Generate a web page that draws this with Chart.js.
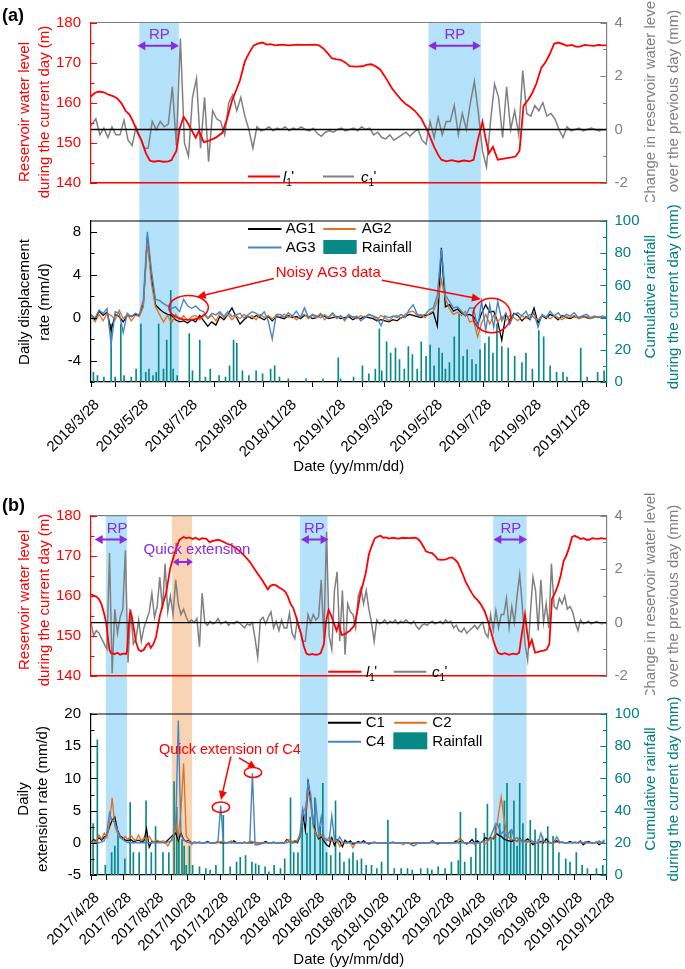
<!DOCTYPE html>
<html>
<head>
<meta charset="utf-8">
<title>Reservoir level, displacement rate and extension rate</title>
<script src="https://cdn.jsdelivr.net/npm/chart.js@4.4.1/dist/chart.umd.min.js"></script>
<style>
  html, body { margin: 0; padding: 0; background: #fff; }
  #page { position: relative; width: 685px; height: 969px; overflow: hidden; background: #fff; }
  #page canvas { position: absolute; left: 0; }
</style>
</head>
<body>
<div id="page">
  <canvas id="levelA" width="685" height="202" style="top:0px;width:685px;height:202px"></canvas>
  <canvas id="rateA" width="685" height="290" style="top:202px;width:685px;height:290px"></canvas>
  <canvas id="levelB" width="685" height="205" style="top:490px;width:685px;height:205px"></canvas>
  <canvas id="rateB" width="685" height="274" style="top:695px;width:685px;height:274px"></canvas>
</div>
<script>
// ---------- data (days are counted from 2017/4/28) ----------

// reservoir water level l1' (m)
const levelDays = [0, 5, 10, 15, 20, 25, 29, 32, 35, 38, 45, 50, 55, 60, 66, 68, 71, 74, 77, 80,
  85, 90, 95, 100, 105, 109, 113, 118, 123, 130, 136, 142, 150, 159, 167, 175, 180, 186, 192, 198,
  204, 210, 218, 224, 232, 241, 250, 257, 265, 274, 282, 290, 300, 307, 315, 323, 330,
  334, 339, 344, 350, 356, 362, 367, 372, 377, 382, 387, 392, 397, 402, 407, 412, 418, 424, 430,
  434, 436, 440, 444, 449, 454, 458, 464, 468, 474, 480, 489, 497, 503, 509, 514, 519, 525, 530,
  536, 542, 547, 552, 557, 563, 570, 580, 590, 600, 612, 617, 622, 628, 633, 639, 644, 650, 655,
  662, 671, 677, 682, 688, 693, 698, 703, 708, 714, 719, 725, 730, 736, 744, 752, 760, 765, 769,
  775, 782, 790, 797, 804, 809, 814, 820, 824, 828, 833, 839, 845, 850, 856, 861, 866, 871, 877,
  882, 887, 893, 898, 903, 909, 914, 920, 925, 931, 936, 941, 947, 952, 958, 964, 969, 974];
const levelVals = [160.4, 160.1, 159.8, 159.2, 157.8, 155.5, 152.9, 149.5, 146.5, 145.7, 145.5, 145.8, 145.3, 145.6, 145.5, 146.2, 152, 156, 155, 152.5,
  148.5, 146.5, 146.2, 146.6, 147.8, 148.2, 147, 148, 149.8, 155, 158, 160.8, 167.1, 171, 174, 174.7, 174.4, 174.6, 174.2, 174.5,
  174, 174.4, 174.2, 173.4, 173.8, 174, 173.5, 173, 172.7, 171.9, 171, 170, 168.5, 167.1, 165.5, 164, 162.5,
  161.6, 162.5, 162.8, 162.6, 162, 161.6, 161, 159.8, 158, 157, 155, 152.5, 150.5, 147.5, 145.6, 145.3, 145.5, 145.3, 145.4,
  145.7, 146.5, 148, 153.5, 156.5, 155, 153.5, 151.3, 153, 150.2, 150.5, 151.3, 152.5, 156, 160.5, 163, 165.6, 170.3, 172.3,
  174.3, 174.8, 175, 174.5, 174.6, 174.3, 174.5, 174.3, 174.5, 174.4, 174.5, 174.3, 173.6, 172.3, 171.1, 170.8, 170.7, 170, 169.1,
  169, 169.1, 169.5, 169.6, 169, 168.3, 166.8, 165.2, 163.5, 162, 160.8, 159.6, 159, 158, 156.1, 152.9, 149, 147, 145.8,
  145.4, 145.7, 145.3, 145.6, 145.4, 145.8, 150.5, 155.3, 151, 147.4, 149, 145.8, 146, 146.2, 146.4, 146.6, 148, 159.2, 160.8,
  162.5, 164.8, 168.7, 170, 171.9, 174.7, 175, 174.6, 174.2, 174.4, 174, 174, 174.4, 174.3, 174.2, 174.4, 174.3, 174.3];

// change in water level over the previous day c1' (mm), one reading every 5 days
const riseVals = [
  0, -0.5, -0.3, -0.4, -0.6, -0.8, -1.0, 2.6, -1.9, 0.5,
  -0.4, 0.2, 0.5, 2.7, -1.5, 0.5, -0.8, -0.6, 0.1, -0.7,
  -0.2, 0.1, 0.4, 1.1, 0.2, 0.6, 1.7, 0.5, 2.2, 0.4,
  1.0, 0.3, 1.6, 0.7, 0.3, 0.5, 0.2, 0.0, 0.1, 0.0,
  0.15, -0.9, 1.1, 0.0, -0.1, 0.05, -0.05, 0.0, 0.15, -0.05,
  0.0, 0.05, -0.1, 0.0, -0.05, 0.05, 0.0, -0.1, -0.2, -0.05,
  -0.1, 0.0, -0.6, -1.3, 0.1, 0.2, -0.05, 0.2, 0.4, -0.2,
  0.05, -0.3, 0.1, -0.2, -0.2, 0.35, -0.4, -0.6, 0.1, -0.3,
  -0.7, -0.7, 0.3, 0.0, 0.3, 0.1, 0.2, 1.6, -0.6, 3.4,
  -0.5, -1.0, 1.2, 1.9, -0.7, 1.2, -1.2, 0.7, 0.4, 0.3,
  -0.2, 1.0, 1.3, 0.7, 1.2, 0.5, 0.0, -0.7, 0.1, -0.05,
  0.0, 0.1, -0.05, 0.05, 0.0, 0.1, -0.05, 0.05, 0.0, 0.1,
  0.0, -0.05, 0.05, -0.15, -0.25, -0.1, -0.05, -0.1, 0.0, 0.05,
  -0.05, 0.0, 0.05, -0.05, 0.1, 0.0, 0.05, -0.2, -0.1, -0.3,
  -0.35, -0.2, -0.4, -0.3, -0.2, -0.1, -0.25, -0.1, 0.0, -0.4,
  -0.55, 0.3, -0.3, 0.45, -0.2, 0.3, 0.3, 0.9, -0.2, 0.6,
  0.0, 1.0, 1.8, 0.6, -0.8, -1.4, 0.3, 1.7, 1.2, -0.3,
  1.6, 0.0, 0.7, -0.2, 2.2, 0.6, 0.5, 0.9, 0.7, 1.0,
  0.5, 0.6, 0.4, 0.0, -0.3, 0.1, -0.05, 0.0, 0.05, -0.05,
  0.0, 0.05, 0.0, -0.05, 0.0];

// panel (a): daily displacement rate (mm/d), every 5 days from 2018/3/28
const ag1 = [
  0.3, -0.2, 0.6, 0.2, 0.5, -1.2, 0.3, 0.1, -0.4, 0.2,
  0.1, 0.3, 0.2, 1.2, 7.5, 3.8, 1.2, 0.8, 0.5, 0.3,
  0.2, -0.2, -0.4, -0.3, -0.5, -0.2, -0.4, 0.2, -0.3, -0.8,
  -0.4, -0.7, 0.1, -0.2, 0.3, 0.9, 0.1, -0.6, -0.2, 0.1,
  -0.1, 0.2, 0, -0.2, 0.1, -0.3, 0.1, 0, -0.1, 0.2,
  0, 0.1, -0.1, 0.2, 0.1, -0.1, 0, 0.3, 0.1, -0.1,
  0, 0.1, -0.1, 0, 0.1, -0.2, 0, -0.1, 0.1, 0,
  -0.1, -0.3, -0.2, -0.3, -0.4, -0.2, -0.3, 0, 0.1, 0.3,
  0.2, 0.1, 0, 0.2, 0.3, 0.5, -0.8, 6.5, 1.0, 1.2,
  0.6, 0.8, 0.4, 0.2, 0.3, 0.1, -0.6, 0.4, 1.2, 0.5,
  0.6, -0.4, -2.1, 0.3, -0.3, 0.4, 0.2, -0.3, 0.1, -0.2,
  0.9, -0.5, 0.2, -0.1, 0.3, 0.1, -0.2, 0.2, 0, -0.1,
  0.1, 0, 0.1, 0, -0.1, 0.1, 0, 0.1, 0];
const ag2 = [
  0.1, -0.4, 0.3, -0.3, 0.4, 0.2, -0.2, 0.7, -0.1, 0.3,
  -0.3, 0.2, 0.1, 1.0, 7.0, 3.2, 1.0, 0.3, -0.4, 0.2,
  -0.5, 0.3, -0.2, 0.2, -0.3, 0.1, 0.2, -0.2, 0.3, -0.1,
  0.2, -0.3, 0.4, 0, 0.3, -0.2, 0.2, -0.1, 0.3, 0,
  0.2, -0.2, 0.3, 0, 0.2, -0.1, 0.2, 0.1, 0.3, 0,
  0.2, -0.2, 0.1, 0.3, -0.1, 0.2, 0, 0.4, -0.2, 0.1,
  0.3, -0.1, 0.2, -0.3, 0.2, 0.1, -0.1, 0.2, 0, 0.3,
  0.1, -0.2, 0.2, 0, -0.3, 0.1, 0.2, -0.1, 0.3, 0.5,
  0.6, 0.2, 0.3, 0, 0.4, 0.6, 1.5, 3.5, 1.8, 0.8,
  0.3, 0.5, 0.2, 0.6, -0.4, -0.3, -1.8, -0.5, 0.3, -0.6,
  0.2, -0.4, 0.1, -0.3, 0.2, 0, -0.3, 0.2, -0.1, 0.3,
  0, -0.2, 0.2, 0.1, -0.1, 0.2, 0, -0.2, 0.1, 0,
  0.2, -0.1, 0, 0.1, -0.1, 0, 0.1, -0.1, 0];
const ag3 = [
  0.25, -0.05, 0.7, 0.4, 0.85, -2.5, 0.55, 0.4, -1.4, 0.4,
  0.1, 0.4, 0.25, 1.7, 8.0, 4.4, 1.7, 1.6, 1.3, 1.1,
  0.85, 1.0, 0.55, 1.7, 1.1, 0.85, 1.1, 0.7, 0.55, -0.05,
  0.4, 0.25, 0.55, 0.1, 0.55, 0.1, 0.25, 0.4, -0.05, 0.25,
  0.55, 0.4, 0.1, 0.55, -0.3, -2.0, 0.3, 0.3, 0, 0.45,
  0.15, 0.6, 0, 0.9, 0, 0.3, 0.15, 0, 0.25, 0,
  0.45, 0, 0.15, -0.15, 0.3, 0, 0.15, -0.3, 0, 0.3,
  0.15, 0, -0.75, 0.15, 0, 0.15, 0, 0.3, 0, 0.75,
  1.2, 0.3, 0.15, 0.3, 0.75, 0.9, 2.1, 6.4, 2.1, 1.5,
  0.9, 1.0, 0.6, 0.15, 0.9, 0.9, -1.0, 1.5, -1.2, 1.2,
  -0.9, 1.5, -0.3, 0.45, -0.6, 0.3, 0.45, 0.15, 0.6, -0.15,
  0.45, -0.9, 0.3, 0, 0.6, 0.15, 0.45, 0, 0.3, 0.15,
  0.45, 0, 0.15, 0.3, 0, 0.15, 0, 0.15, 0];

// panel (a): rainfall of the day (mm), days after 2018/3/28
const rainADays = [3, 8, 16, 25, 30, 37, 41, 50, 56, 62, 68, 72, 77, 81, 84, 90, 94, 99, 102, 107,
  122, 126, 135, 142, 148, 159, 167, 172, 177, 181, 188, 196, 205, 213, 223, 228, 234, 245, 267, 288,
  307, 310, 326, 337, 345, 353, 358, 361, 367, 372, 378, 383, 389, 394, 399, 405, 410, 416, 421, 426,
  432, 436, 440, 445, 451, 457, 462, 467, 473, 478, 483, 489, 494, 499, 504, 510, 518, 526, 535, 540,
  548, 556, 562, 570, 578, 586, 591, 608, 616, 629, 637];
const rainAmm = [6, 4, 3, 36, 3, 36, 4, 3, 8, 36, 6, 8, 4, 6, 36, 8, 26, 57, 8, 4,
  30, 7, 26, 3, 8, 4, 3, 10, 26, 24, 7, 4, 7, 5, 8, 10, 3, 2, 2, 2,
  15, 2, 3, 10, 5, 8, 33, 7, 25, 18, 21, 14, 8, 22, 17, 8, 25, 16, 23, 10,
  21, 18, 8, 12, 28, 42, 16, 20, 14, 11, 20, 24, 28, 18, 36, 22, 21, 16, 12, 18,
  8, 32, 28, 10, 6, 6, 3, 21, 3, 6, 7];

// panel (b): daily extension rate (mm/d), every 5 days from 2017/4/28
const c1 = [
  0, 0.5, 0.3, 0.8, 0.4, 0.9, 1.2, 2.5, 3.5, 4.0,
  2.0, 1.0, 0.8, 0.4, 0.3, 0.5, 0.2, 0.3, 0.4, 0.2,
  0.3, 2.2, -0.7, 0.2, 0.1, 0.3, 0.2, 0.1, 0, 0.4,
  0.8, 1.2, 1.5, 0.3, 1.5, 0.5, 0.2, 0.4, 0, 0.1,
  0, 0.1, 0, 0, 0.2, 0, 0, 0, 0.1, 0,
  0, 0, 0.1, 0, 0.3, 0, 0, 0, 0.1, 0,
  0, 0, 0.1, 0, 0, 0, 0.2, 0, 0, 0.1,
  0, 0, 0, 0, 0.5, 0.2, 0, 0.3, 0, 1.0,
  4.5, 2.0, 9.8, 6.5, 3.0, 1.5, 0.6, 1.0, 0.3, -0.3,
  -0.6, 0.8, -0.4, 0.5, 0.2, -0.6, 0.4, 0, 0.3, -0.2,
  0, 0.2, 0, 0.3, 0, -0.2, 0, 0.1, 0, 0,
  0, 0, 0, 0, 0.1, 0, 0, 0, 0, 0,
  0, -0.2, 0, 0, 0, 0, 0, 0, 0, 0.3,
  0, -0.2, 0, 0, 0, 0, 0, 0, 0.3, 0,
  0.4, 0, -0.2, 0.1, 0.5, 0, 0.3, 0, 0.2, 0.8,
  0.5, 0.8, 0.6, 1.5, 1.2, 1.0, 0.6, 0.4, 0.3, 0.2,
  0.5, 0.2, 0.7, 0.1, 0.3, 0.6, 0.2, -0.3, 0.1, 0,
  0.2, 0, 0.6, 0.1, 0, 0.1, 0.3, 0, 0.1, 0,
  0, 0.2, 0, 0.1, 0, 0.3, -0.3, 0, 0.2, 0,
  0, 0.1, -0.3, 0, 0.2];
const c2 = [
  0, 0.3, 0.2, 1.2, 0.6, 1.5, 0.8, 3.0, 7.0, 2.6,
  1.5, 0.8, 0.6, 1.0, 0.5, 1.2, 0.6, 0.4, 1.2, 0.3,
  0.8, 0.5, 1.0, 0.3, 0.2, 0.4, 0.1, 0.3, 0.2, -0.5,
  0.2, 0.5, 3.3, 1.0, 5.0, 12.3, 1.0, 0.5, -0.3, 0,
  0.1, 0, 0, 0, 0.1, 0, 0, 0, 0, 0.2,
  0.1, 0, 0, 0.3, 0, 0, 0, 0, 0, 0,
  0.2, 0.2, 0, 0, 0, 0, 0, 0, 0, 0,
  0, 0, 0.1, 0, 0.3, 0.5, 0.2, 0.3, 0.4, 1.0,
  4.5, 5.5, 8.0, 6.0, 2.5, 1.5, 0.8, 1.2, 0.6, 0.3,
  0.9, 0.3, 0.2, 0.4, -0.6, 0.1, 0, 0, 0, -0.8,
  0, 0, 0, 0.1, 0, 0, 0, 0, 0, 0,
  0, 0, 0, 0, 0, 0, 0, 0, -0.3, 0,
  0, 0, 0, 0, 0, 0, 0, 0, 0, 0.2,
  0, 0, 0, 0, 0, 0, 0, 0, 0, 0.6,
  0.3, 0, 0, 0, 0, -0.3, 0, 0, 0.2, -0.2,
  0.3, 0.6, 0.8, 1.5, 4.5, 7.1, 4.0, 1.5, 0.8, 0.5,
  0.5, 0.2, 0.6, 0.1, 0.2, 0.3, 0, 0.1, 0, 0,
  0, 0.2, 0, 0, 0, 0, 0.1, 0, 0.2, 0,
  0, 0, 0.1, 0, 0, 0.2, 0, 0, 0, 0,
  0, 0.1, 0, 0, 0];
const c4 = [
  0, 0, 0, 0, 0.1, 0.3, 1.7, 4.6, 3.4, 3.2,
  1.9, 1.0, 0.5, 0.2, 0, 0, 0, 0, 0, 0,
  0, 0, 0, 0, 0, 0, 0, 0, 0, 0.1,
  0.2, 0.9, 2.2, 19.0, 1.2, 0.45, 0.2, 0, 0, 0,
  0, 0, 0, 0, 0, 0, 0, 0, 0.3, 5.8,
  0.2, 0, 0, 0, 0, 0, 0, 0, 0, 0,
  0.1, 10.8, -0.3, -0.3, -0.2, -0.1, 0, 0, 0, 0,
  0, 0, 0, 0, 0, 0.2, 0, 0, 0.2, 1.5,
  5.3, 3.5, 9.5, 7.5, 3.0, 6.0, 1.5, 4.0, 0.8, 0.5,
  0.3, 4.2, 0.5, 0.1, 0.9, 0.2, 0, 0, 0, 0,
  0, 0, 0, 0, 0, 0, 0, 0, 0, 0,
  0, 0, 0, 0, 0, 0, 0, 0, 0, 0,
  0, -0.3, -0.5, -0.2, 0, 0, 0, 0, 0, 0,
  0, 0, 0, 0, 0, 0, 0, 0, 0, 0,
  0, 0, 0, 0, 0, 0, 0, 0, 0.2, 0.3,
  0.5, 1.0, 2.0, 3.0, 2.6, 1.4, 1.8, 0.9, 1.6, 2.0,
  0.6, 0.8, 0.4, 0.2, 0.3, 0.1, 0.5, 0.2, 0, 0,
  1.5, 0.3, 0.1, 0, 0, 0.2, 0.9, 0.2, 0, 0,
  0, 0, 0, 0, 0, 0, 0, 0.2, 0, 0,
  0, 0, 0.3, 0, 0.5];

// panel (b): rainfall of the day (mm), days after 2017/4/28
const rainBDays = [4, 12, 27, 39, 45, 51, 64, 74, 80, 91, 104, 114, 122, 136, 147, 157, 162, 166, 172, 176,
  180, 186, 192, 205, 217, 225, 236, 250, 263, 275, 282, 292, 304, 311, 317, 329, 336, 346, 358, 366,
  377, 383, 391, 399, 408, 414, 423, 433, 438, 445, 453, 462, 470, 478, 488, 495, 503, 511, 520, 530,
  540, 549, 561, 573, 586, 598, 607, 623, 636, 644, 656, 669, 681, 694, 698, 706, 718, 727, 735, 743,
  749, 756, 764, 772, 781, 786, 793, 799, 805, 810, 816, 822, 830, 839, 845, 853, 863, 873, 884, 897,
  905, 917, 928, 938, 955, 967];
const rainBmm = [32, 84, 6, 14, 18, 26, 10, 45, 14, 14, 46, 14, 30, 14, 14, 58, 42, 26, 22, 18,
  6, 18, 6, 5, 4, 3, 6, 37, 5, 8, 11, 12, 8, 7, 6, 5, 2, 6, 4, 10,
  48, 14, 14, 32, 26, 36, 48, 30, 57, 14, 12, 46, 14, 8, 10, 14, 9, 10, 6, 6,
  4, 8, 34, 4, 4, 4, 3, 4, 4, 3, 5, 4, 8, 9, 39, 8, 11, 29, 20, 26,
  44, 22, 30, 32, 46, 57, 28, 46, 18, 57, 32, 20, 34, 28, 22, 24, 30, 24, 14, 10,
  8, 14, 6, 4, 4, 6];

// shaded periods
const rpA = [['2018/5/27', '2018/7/15'], ['2019/5/21', '2019/7/25']];
const rpB = [['2017/5/26', '2017/7/5'], ['2018/5/28', '2018/7/19'], ['2019/5/28', '2019/7/30']];
const quickB = ['2017/9/28', '2017/11/5'];

// tick labels
const tickLabelsA = ['2018/3/28', '2018/5/28', '2018/7/28', '2018/9/28', '2018/11/28', '2019/1/28',
  '2019/3/28', '2019/5/28', '2019/7/28', '2019/9/28', '2019/11/28'];
const tickLabelsB = ['2017/4/28', '2017/6/28', '2017/8/28', '2017/10/28', '2017/12/28', '2018/2/28',
  '2018/4/28', '2018/6/28', '2018/8/28', '2018/10/28', '2018/12/28', '2019/2/28', '2019/4/28',
  '2019/6/28', '2019/8/28', '2019/10/28', '2019/12/28'];

// ---------- setup ----------
const F = "'Liberation Sans', Arial, Helvetica, sans-serif";
Chart.defaults.font.family = F;
Chart.defaults.font.size = 15;
Chart.defaults.color = '#000';

const RED = '#ff0000', GRAY = '#808080', TEAL = '#008080', PURPLE = '#8a2be2';
const ORANGE = '#e0701e', BLUE = '#4a84c2', RAIN = '#078a86';
const SKY = '#b3e2fa', PEACH = '#f8d4b4';

const DAY0 = Date.UTC(2017, 3, 28);
const dayOf = s => { const [y, m, d] = s.split('/').map(Number); return Math.round((Date.UTC(y, m - 1, d) - DAY0) / 864e5); };
const A0 = dayOf('2018/3/28');
const END = dayOf('2019/12/28');

// monthly tick marks, labelled every second month
function monthsBetween(first, last) {
  let [y, m] = first.split('/').map(Number);
  const [ly, lm] = last.split('/').map(Number);
  const out = [];
  while (y < ly || (y === ly && m <= lm)) {
    out.push(`${y}/${m}/28`);
    m++; if (m > 12) { m = 1; y++; }
  }
  return out;
}
const monthsA = monthsBetween('2018/3/28', '2019/12/28');
const monthsB = monthsBetween('2017/4/28', '2019/12/28');

const every5 = (vals, start) => vals.map((v, i) => ({ x: start + 5 * i, y: v }));
const paired = (days, vals, start) => days.map((d, i) => ({ x: start + d, y: vals[i] }));
const levelPts = levelDays.map((d, i) => ({ x: d, y: levelVals[i] }));

// ---------- scales ----------
function yAxis(pos, min, max, ticks, color, width) {
  return {
    type: 'linear', position: pos, min, max,
    afterBuildTicks: s => { s.ticks = ticks.map(v => ({ value: v })); },
    ticks: { color, font: { size: 15 }, padding: pos === 'left' ? 10 : 8 },
    grid: { display: false, drawTicks: false },
    border: { display: true, color, width: 1.2 },
    afterFit: s => { s.width = width; }
  };
}
function xTop(min) {
  return {
    type: 'linear', min, max: END, offset: false,
    ticks: { display: false },
    grid: { display: false, drawTicks: false, offset: false },
    border: { display: true, color: RED, width: 1.5 },
    afterFit: s => { s.height = 11; }
  };
}
function xBottom(min, months, majors, height, titlePad) {
  return {
    type: 'linear', min, max: END, offset: false,
    afterBuildTicks: s => { s.ticks = months.map(m => ({ value: dayOf(m) })); },
    ticks: {
      autoSkip: false, minRotation: 45, maxRotation: 45, padding: 9, labelOffset: 6, color: '#000', font: { size: 15 },
      callback: v => { const m = months.find(mm => dayOf(mm) === v); return majors.includes(m) ? m : ''; }
    },
    grid: { display: true, drawOnChartArea: false, drawTicks: true, tickLength: 5, color: '#000', offset: false },
    border: { display: true, color: '#000', width: 1.2 },
    title: { display: true, text: 'Date (yy/mm/dd)', color: '#000', font: { size: 15 }, padding: { top: 0, bottom: titlePad } },
    afterFit: s => { s.height = height; }
  };
}
function common(padTop) {
  return {
    responsive: false, animation: false, events: [],
    layout: { padding: { top: padTop, left: 0, right: 0, bottom: 0 }, autoPadding: false },
    plugins: { legend: { display: false }, tooltip: { enabled: false } },
    elements: { point: { radius: 0 }, line: { tension: 0 } }
  };
}

// ---------- drawing helpers ----------
function seg(ctx, x1, y1, x2, y2) { ctx.beginPath(); ctx.moveTo(x1, y1); ctx.lineTo(x2, y2); ctx.stroke(); }
function head(ctx, x, y, ang, len, half) {
  const c = Math.cos(ang), s = Math.sin(ang);
  ctx.beginPath();
  ctx.moveTo(x, y);
  ctx.lineTo(x - len * c + half * s, y - len * s - half * c);
  ctx.lineTo(x - len * c - half * s, y - len * s + half * c);
  ctx.closePath(); ctx.fill();
}
function arrow(ctx, x1, y1, x2, y2, both, len, half, w) {
  const ang = Math.atan2(y2 - y1, x2 - x1), c = Math.cos(ang), s = Math.sin(ang);
  ctx.lineWidth = w;
  seg(ctx, both ? x1 + c * len * 0.7 : x1, both ? y1 + s * len * 0.7 : y1, x2 - c * len * 0.7, y2 - s * len * 0.7);
  head(ctx, x2, y2, ang, len, half);
  if (both) head(ctx, x1, y1, ang + Math.PI, len, half);
}
function symbol(ctx, x, y, ch) {
  ctx.fillStyle = '#000'; ctx.textAlign = 'left'; ctx.textBaseline = 'alphabetic';
  ctx.font = `italic 15px ${F}`;
  ctx.fillText(ch, x, y + 5.5);
  const w = ctx.measureText(ch).width;
  ctx.font = `10px ${F}`;
  ctx.fillText('1', x + w, y + 9);
  ctx.font = `15px ${F}`;
  ctx.fillText("'", x + w + 5, y + 4.5);
}

// bands, frame, inner ticks, titles, legend and notes for one chart
function decor(spec) {
  return {
    id: 'decor',
    beforeDraw(chart) {
      const { ctx, chartArea: a } = chart, x = chart.scales.x;
      ctx.save();
      spec.bands.forEach(([d0, d1, col]) => {
        const x0 = Math.max(a.left, x.getPixelForValue(dayOf(d0)));
        const x1 = Math.min(a.right, x.getPixelForValue(dayOf(d1)));
        const y0 = spec.bandDown ? a.top : 0;
        const y1 = spec.bandDown ? chart.height : a.bottom;
        ctx.fillStyle = col;
        ctx.fillRect(x0, y0, x1 - x0, y1 - y0);
      });
      ctx.restore();
    },
    afterDatasetsDraw(chart) {
      if (!spec.zero) return;
      const { ctx, chartArea: a } = chart;
      const y = chart.scales.yR.getPixelForValue(0);
      ctx.save();
      ctx.strokeStyle = '#000'; ctx.lineWidth = 1.3;
      seg(ctx, a.left, y, a.right, y);
      ctx.restore();
    },
    afterDraw(chart) {
      const { ctx, chartArea: a, scales } = chart;
      const px = (axis, xv, yv) => [scales.x.getPixelForValue(xv), scales[axis].getPixelForValue(yv)];
      ctx.save();
      ctx.strokeStyle = spec.frameTop; ctx.lineWidth = 1.2;
      seg(ctx, a.left, a.top, a.right, a.top);

      spec.yTicks.forEach(t => {
        const s = scales[t.axis], X = t.axis === 'y' ? a.left : a.right, dir = t.axis === 'y' ? 1 : -1;
        ctx.strokeStyle = t.color; ctx.lineWidth = 1;
        for (let v = Math.ceil(s.min / t.minor) * t.minor; v <= s.max + 1e-9; v += t.minor) {
          const major = Math.abs(v / t.major - Math.round(v / t.major)) < 1e-6;
          const y = Math.round(s.getPixelForValue(v)) + 0.5;
          seg(ctx, X, y, X + dir * (major ? 6 : 3.5), y);
        }
      });

      ctx.textAlign = 'center'; ctx.textBaseline = 'middle';
      spec.sideTitles.forEach(t => {
        ctx.fillStyle = t.color; ctx.font = `15px ${F}`;
        t.lines.forEach((ln, i) => {
          ctx.save(); ctx.translate(t.xs[i], t.cy); ctx.rotate(-Math.PI / 2);
          ctx.fillText(ln, 0, 0); ctx.restore();
        });
      });

      if (spec.panel) {
        ctx.fillStyle = '#000'; ctx.font = `bold 18px ${F}`; ctx.textAlign = 'left';
        ctx.fillText(spec.panel.text, spec.panel.x, spec.panel.y);
      }

      spec.legend.forEach(it => {
        if (it.kind === 'line') {
          ctx.strokeStyle = it.color; ctx.lineWidth = 2; seg(ctx, it.x1, it.y, it.x2, it.y);
        } else if (it.kind === 'box') {
          ctx.fillStyle = it.color; ctx.fillRect(it.x, it.y, it.w, it.h);
        } else if (it.kind === 'sym') {
          symbol(ctx, it.x, it.y, it.ch);
        } else {
          ctx.fillStyle = '#000'; ctx.font = `15px ${F}`; ctx.textAlign = 'left'; ctx.textBaseline = 'middle';
          ctx.fillText(it.text, it.x, it.y);
        }
      });

      spec.notes.forEach(n => {
        ctx.strokeStyle = n.color; ctx.fillStyle = n.color;
        if (n.type === 'text') {
          ctx.font = `${n.size || 15}px ${F}`; ctx.textAlign = 'center'; ctx.textBaseline = 'middle';
          const [x, y] = px(n.axis, n.x, n.y);
          ctx.fillText(n.text, x, y);
        } else if (n.type === 'arrow') {
          const [x1, y1] = px(n.axis, n.x1, n.y1), [x2, y2] = px(n.axis, n.x2, n.y2);
          arrow(ctx, x1, y1, x2, y2, n.both, n.len, n.half, n.w);
        } else {
          const [x, y] = px(n.axis, n.x, n.y);
          ctx.lineWidth = 1.5; ctx.beginPath();
          ctx.ellipse(x, y, n.rx, n.ry, 0, 0, Math.PI * 2); ctx.stroke();
        }
      });
      ctx.restore();
    }
  };
}

const rpNote = (x1, x2, xt, yArrow, yText) => [
  { type: 'text', axis: 'y', x: xt, y: yText, text: 'RP', color: PURPLE },
  { type: 'arrow', axis: 'y', x1, y1: yArrow, x2, y2: yArrow, color: PURPLE, both: true, len: 8, half: 4.5, w: 2 }
];

// ---------- (a) reservoir level ----------
new Chart(document.getElementById('levelA'), {
  type: 'line',
  data: { datasets: [
    { label: "l1'", data: levelPts, yAxisID: 'y', borderColor: RED, borderWidth: 1.8, order: 1 },
    { label: "c1'", data: every5(riseVals, 0), yAxisID: 'yR', borderColor: GRAY, borderWidth: 1.5, order: 2 }
  ] },
  options: { ...common(22.5),
    scales: { x: xTop(A0), y: yAxis('left', 140, 180, [140, 150, 160, 170, 180], RED, 91),
      yR: yAxis('right', -2, 4, [-2, 0, 2, 4], GRAY, 78.5) } },
  plugins: [decor({
    bands: rpA.map(b => [...b, SKY]), bandDown: true, frameTop: GRAY, zero: true,
    yTicks: [{ axis: 'y', major: 10, minor: 5, color: RED }, { axis: 'yR', major: 2, minor: 1, color: GRAY }],
    panel: { text: '(a)', x: 2, y: 16 },
    sideTitles: [
      { xs: [24.5, 44.5], cy: 112, color: RED, lines: ['Reservoir water level', 'during the current day (m)'] },
      { xs: [651, 673.5], cy: 101, color: GRAY, lines: ['Change in reservoir water level', 'over the previous day (mm)'] }],
    legend: [
      { kind: 'line', x1: 248, x2: 280, y: 176.5, color: RED }, { kind: 'sym', x: 283, y: 176.5, ch: 'l' },
      { kind: 'line', x1: 323, x2: 354, y: 176.5, color: GRAY }, { kind: 'sym', x: 361, y: 176.5, ch: 'c' }],
    notes: [...rpNote(391.5, 443.2, 418.8, 174.2, 176.9), ...rpNote(752.6, 818, 785.7, 174.2, 176.9)]
  })]
});

// ---------- (a) displacement rate ----------
new Chart(document.getElementById('rateA'), {
  type: 'line',
  data: { datasets: [
    { label: 'AG1', data: every5(ag1, A0), yAxisID: 'y', borderColor: '#000', borderWidth: 1.3, order: 3 },
    { label: 'AG2', data: every5(ag2, A0), yAxisID: 'y', borderColor: ORANGE, borderWidth: 1.3, order: 2 },
    { label: 'AG3', data: every5(ag3, A0), yAxisID: 'y', borderColor: BLUE, borderWidth: 1.4, order: 1 },
    { type: 'bar', label: 'Rainfall', data: paired(rainADays, rainAmm, A0), yAxisID: 'yR',
      backgroundColor: RAIN, barThickness: 1, grouped: false, order: 10 }
  ] },
  options: { ...common(11.5),
    scales: { x: xBottom(A0, monthsA, tickLabelsA, 110, 16), y: yAxis('left', -6, 9, [-4, 0, 4, 8], '#000', 91),
      yR: yAxis('right', 0, 100, [0, 20, 40, 60, 80, 100], TEAL, 78.5) } },
  plugins: [decor({
    bands: rpA.map(b => [...b, SKY]), bandDown: false, frameTop: '#000', zero: false,
    yTicks: [{ axis: 'y', major: 4, minor: 2, color: '#000' }, { axis: 'yR', major: 20, minor: 10, color: TEAL }],
    sideTitles: [
      { xs: [24.5, 44.5], cy: 100, color: '#000', lines: ['Daily displacement', 'rate (mm/d)'] },
      { xs: [651, 673.5], cy: 94.7, color: TEAL, lines: ['Cumulative rainfall', 'during the current day (mm)'] }],
    legend: [
      { kind: 'line', x1: 248, x2: 281.5, y: 27, color: '#000' }, { kind: 'text', x: 285.7, y: 27, text: 'AG1' },
      { kind: 'line', x1: 323.3, x2: 355.7, y: 27, color: ORANGE }, { kind: 'text', x: 361.7, y: 27, text: 'AG2' },
      { kind: 'line', x1: 248, x2: 281.5, y: 45.5, color: BLUE }, { kind: 'text', x: 285.7, y: 45.5, text: 'AG3' },
      { kind: 'box', x: 323.3, y: 38, w: 33.4, h: 14, color: RAIN }, { kind: 'text', x: 361.7, y: 45.5, text: 'Rainfall' }],
    notes: [
      { type: 'text', axis: 'y', x: 628.5, y: 4.15, text: 'Noisy AG3 data', color: RED },
      { type: 'arrow', axis: 'y', x1: 561.1, y1: 3.64, x2: 465.2, y2: 1.93, color: RED, both: false, len: 9, half: 4, w: 1.5 },
      { type: 'arrow', axis: 'y', x1: 695.1, y1: 3.47, x2: 818, y2: 1.72, color: RED, both: false, len: 9, half: 4, w: 1.5 },
      { type: 'ellipse', axis: 'y', x: 455.2, y: 0.93, rx: 19.7, ry: 12.2, color: RED },
      { type: 'ellipse', axis: 'y', x: 831.6, y: 0.2, rx: 19, ry: 17.2, color: RED }]
  })]
});

// ---------- (b) reservoir level ----------
const bandsB = [...rpB.map(b => [...b, SKY]), [...quickB, PEACH]];
new Chart(document.getElementById('levelB'), {
  type: 'line',
  data: { datasets: [
    { label: "l1'", data: levelPts, yAxisID: 'y', borderColor: RED, borderWidth: 1.8, order: 1 },
    { label: "c1'", data: every5(riseVals, 0), yAxisID: 'yR', borderColor: GRAY, borderWidth: 1.5, order: 2 }
  ] },
  options: { ...common(25.7),
    scales: { x: xTop(0), y: yAxis('left', 140, 180, [140, 150, 160, 170, 180], RED, 91),
      yR: yAxis('right', -2, 4, [-2, 0, 2, 4], GRAY, 78.5) } },
  plugins: [decor({
    bands: bandsB, bandDown: true, frameTop: GRAY, zero: true,
    yTicks: [{ axis: 'y', major: 10, minor: 5, color: RED }, { axis: 'yR', major: 2, minor: 1, color: GRAY }],
    panel: { text: '(b)', x: 2, y: 16 },
    sideTitles: [
      { xs: [24.5, 44.5], cy: 110, color: RED, lines: ['Reservoir water level', 'during the current day (m)'] },
      { xs: [651, 673.5], cy: 106, color: GRAY, lines: ['Change in reservoir water level', 'over the previous day (mm)'] }],
    legend: [
      { kind: 'line', x1: 328.2, x2: 361.4, y: 181.7, color: RED }, { kind: 'sym', x: 366, y: 181.7, ch: 'l' },
      { kind: 'line', x1: 393.7, x2: 426.4, y: 181.7, color: GRAY }, { kind: 'sym', x: 432, y: 181.7, ch: 'c' }],
    notes: [
      ...rpNote(7, 69.2, 49.3, 174.06, 176.8),
      ...rpNote(396.6, 448.8, 422.2, 174.06, 176.8),
      ...rpNote(760.3, 824.1, 793.4, 174.06, 176.8),
      { type: 'text', axis: 'y', x: 200.2, y: 171.45, text: 'Quick extension', color: PURPLE },
      { type: 'arrow', axis: 'y', x1: 154.7, y1: 168.45, x2: 192.6, y2: 168.45, color: PURPLE, both: true, len: 6, half: 4, w: 2 }]
  })]
});

// ---------- (b) extension rate ----------
new Chart(document.getElementById('rateB'), {
  type: 'line',
  data: { datasets: [
    { label: 'C1', data: every5(c1, 0), yAxisID: 'y', borderColor: '#000', borderWidth: 1.3, order: 3 },
    { label: 'C2', data: every5(c2, 0), yAxisID: 'y', borderColor: ORANGE, borderWidth: 1.3, order: 2 },
    { label: 'C4', data: every5(c4, 0), yAxisID: 'y', borderColor: BLUE, borderWidth: 1.4, order: 1 },
    { type: 'bar', label: 'Rainfall', data: paired(rainBDays, rainBmm, 0), yAxisID: 'yR',
      backgroundColor: RAIN, barThickness: 1, grouped: false, order: 10 }
  ] },
  options: { ...common(11.7),
    scales: { x: xBottom(0, monthsB, tickLabelsB, 94, 0), y: yAxis('left', -5, 20, [-5, 0, 5, 10, 15, 20], '#000', 91),
      yR: yAxis('right', 0, 100, [0, 20, 40, 60, 80, 100], TEAL, 78.5) } },
  plugins: [decor({
    bands: bandsB, bandDown: false, frameTop: '#000', zero: false,
    yTicks: [{ axis: 'y', major: 5, minor: 2.5, color: '#000' }, { axis: 'yR', major: 20, minor: 10, color: TEAL }],
    sideTitles: [
      { xs: [23.5, 43], cy: 104, color: '#000', lines: ['Daily', 'extension rate (mm/d)'] },
      { xs: [651, 673.5], cy: 94, color: TEAL, lines: ['Cumulative rainfall', 'during the current day (mm)'] }],
    legend: [
      { kind: 'line', x1: 328, x2: 361, y: 27.7, color: '#000' }, { kind: 'text', x: 365.7, y: 27.7, text: 'C1' },
      { kind: 'line', x1: 394.3, x2: 426.7, y: 27.7, color: ORANGE }, { kind: 'text', x: 432.3, y: 27.7, text: 'C2' },
      { kind: 'line', x1: 328, x2: 361, y: 46.7, color: BLUE }, { kind: 'text', x: 365.7, y: 46.7, text: 'C4' },
      { kind: 'box', x: 393.3, y: 37.3, w: 34, h: 17, color: RAIN }, { kind: 'text', x: 432.3, y: 46.7, text: 'Rainfall' }],
    notes: [
      { type: 'text', axis: 'y', x: 262.4, y: 14.47, text: 'Quick extension of C4', color: RED, size: 14.5 },
      { type: 'arrow', axis: 'y', x1: 264.3, y1: 13.4, x2: 245.4, y2: 6.64, color: RED, both: false, len: 9, half: 4, w: 1.5 },
      { type: 'arrow', axis: 'y', x1: 279.5, y1: 13.2, x2: 311.8, y2: 11.6, color: RED, both: false, len: 8, half: 4, w: 1.5 },
      { type: 'ellipse', axis: 'y', x: 245.4, y: 5.53, rx: 8.7, ry: 5.2, color: RED },
      { type: 'ellipse', axis: 'y', x: 306, y: 10.92, rx: 8.7, ry: 5, color: RED }]
  })]
});
</script>
</body>
</html>
